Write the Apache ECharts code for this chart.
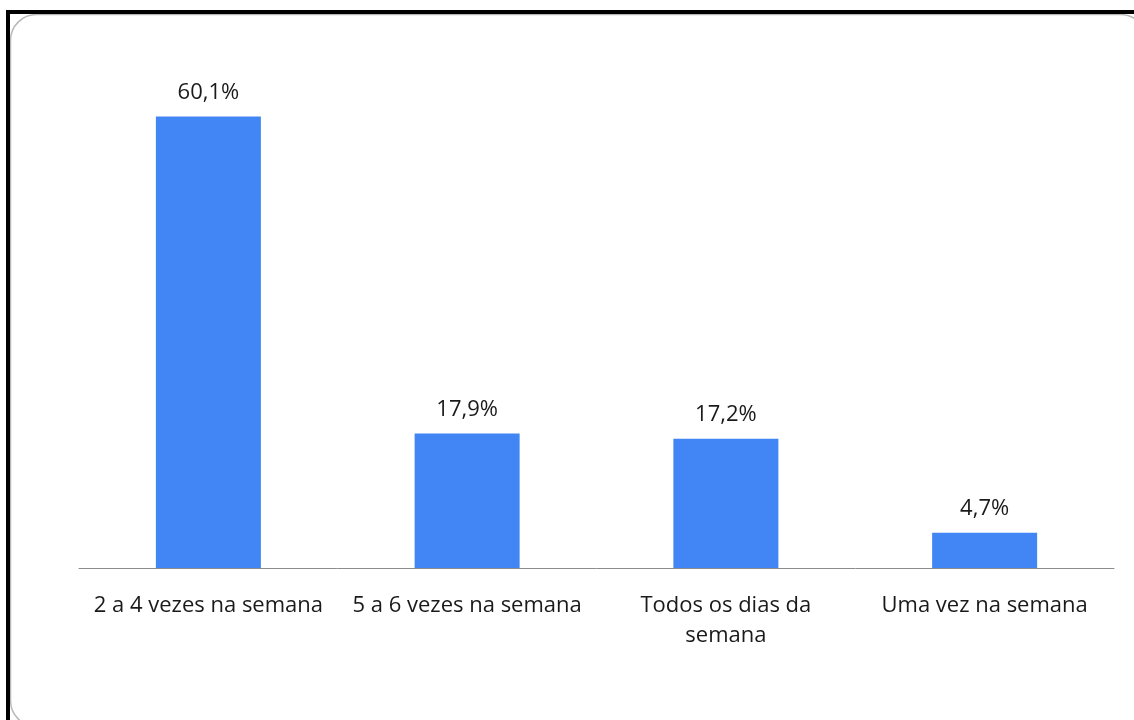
<!DOCTYPE html>
<html>
<head>
<meta charset="utf-8">
<script src="https://cdn.jsdelivr.net/npm/echarts@6/dist/echarts.min.js"></script>
<style>
  html, body { margin: 0; padding: 0; background: #fff; }
  #chart { width: 1134px; height: 720px; }
</style>
</head>
<body>
<div id="chart"></div>
<script>
// Frequência semanal (percentual de respostas)
const categories = [
  '2 a 4 vezes na semana',
  '5 a 6 vezes na semana',
  'Todos os dias da\nsemana',
  'Uma vez na semana'
];
const values = [60.1, 17.9, 17.2, 4.7];

const chart = echarts.init(document.getElementById('chart'), null, { renderer: 'canvas' });

const fontFamily = '"Open Sans", "Noto Sans", sans-serif';

chart.setOption({
  animation: false,
  backgroundColor: '#ffffff',
  graphic: [
    // outer dark frame (top and left edges)
    { type: 'rect', shape: { x: 6, y: 10, width: 1140, height: 4 }, style: { fill: '#000' }, z: 10 },
    { type: 'rect', shape: { x: 6, y: 10, width: 4, height: 720 }, style: { fill: '#000' }, z: 10 },
    // rounded chart-area border
    {
      type: 'rect',
      shape: { x: 10.5, y: 14.5, width: 1136, height: 712, r: 26 },
      style: { fill: 'none', stroke: '#b8b8b8', lineWidth: 1.5 },
      z: 9
    }
  ],
  grid: { left: 79, width: 1035, top: 42, bottom: 152, containLabel: false },
  xAxis: {
    type: 'category',
    data: categories,
    axisLine: { lineStyle: { color: '#8c8c8c', width: 1 } },
    axisTick: { show: false },
    axisLabel: {
      interval: 0,
      margin: 23,
      color: '#1a1a1a',
      fontFamily: fontFamily,
      fontSize: 22,
      lineHeight: 30
    }
  },
  yAxis: {
    type: 'value',
    min: 0,
    max: 70,
    show: false,
    splitLine: { show: false }
  },
  series: [{
    type: 'bar',
    data: values,
    barWidth: 105,
    itemStyle: { color: '#4285f4' },
    label: {
      show: true,
      position: 'top',
      distance: 13,
      color: '#1a1a1a',
      fontFamily: fontFamily,
      fontSize: 22,
      formatter: p => p.value.toFixed(1).replace('.', ',') + '%'
    }
  }]
});
</script>
</body>
</html>
